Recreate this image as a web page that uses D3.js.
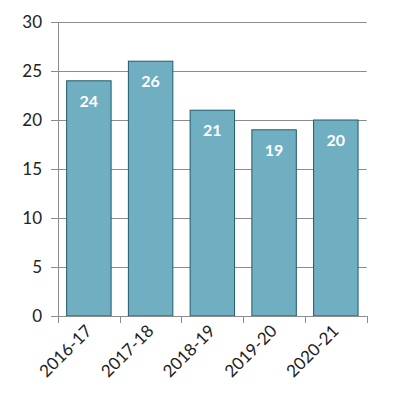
<!DOCTYPE html>
<html>
<head>
<meta charset="utf-8">
<script src="https://cdn.jsdelivr.net/npm/d3@7"></script>
<style>
  body { margin: 0; background: #fff; }
  svg text { font-family: "Lato", "DejaVu Sans", sans-serif; }
</style>
</head>
<body>
<div class="myChart"></div>
<script>
    var categories = ['2016-17', '2017-18', '2018-19', '2019-20', '2020-21'];
    var values = [24, 26, 21, 19, 20];
    var yTicks = [0, 5, 10, 15, 20, 25, 30];

    // width and height
    var w = 397;
    var h = 414;
    var plotLeft = 58, plotRight = 366.7, plotTop = 22, plotBottom = 316;

    var x = d3.scaleBand()
                .domain(categories)
                .range([plotLeft, plotRight])
                .paddingInner(0.28)
                .paddingOuter(0.14);

    var y = d3.scaleLinear()
                .domain([0, 30])
                .range([plotBottom, plotTop]);

    var svg = d3.select('.myChart')
                .append('svg')
                .attr('width', w)
                .attr('height', h);

    // gridlines
    svg.append('g')
        .selectAll('line')
        .data(yTicks.filter(function (d) { return d > 0; }))
        .enter()
        .append('line')
            .attr('x1', plotLeft)
            .attr('x2', plotRight)
            .attr('y1', function (d) { return Math.round(y(d)) + 0.5; })
            .attr('y2', function (d) { return Math.round(y(d)) + 0.5; })
            .attr('stroke', '#8c8c8c')
            .attr('stroke-width', 1);

    // bars
    svg.append('g')
        .selectAll('rect')
        .data(values)
        .enter()
        .append('rect')
            .attr('x', function (d, i) { return x(categories[i]); })
            .attr('y', function (d) { return y(d); })
            .attr('width', x.bandwidth())
            .attr('height', function (d) { return plotBottom - y(d); })
            .attr('fill', '#70afc1')
            .attr('stroke', '#1f5a6a')
            .attr('stroke-width', 1);

    // value labels
    svg.append('g')
        .selectAll('text')
        .data(values)
        .enter()
        .append('text')
            .attr('x', function (d, i) { return x(categories[i]) + x.bandwidth() / 2; })
            .attr('y', function (d) { return y(d) + 26; })
            .attr('text-anchor', 'middle')
            .attr('font-size', '16px')
            .attr('font-weight', 'bold')
            .attr('fill', 'white')
            .text(function (d) { return d; });

    // y axis
    var yAxis = svg.append('g')
        .attr('transform', 'translate(' + plotLeft + ',0)')
        .call(d3.axisLeft(y).tickValues(yTicks).tickSize(7).tickPadding(9));
    yAxis.selectAll('line, path').attr('stroke', '#8c8c8c');
    yAxis.select('path').attr('d', 'M0.5,' + plotTop + 'V' + plotBottom);
    yAxis.selectAll('text')
        .attr('font-size', '17px')
        .attr('fill', '#222')
        .style('font-family', '"Lato", "DejaVu Sans", sans-serif');

    // x axis
    var xEdges = d3.scaleLinear().domain([0, categories.length]).range([plotLeft, plotRight]);
    var xAxis = svg.append('g')
        .attr('transform', 'translate(0,' + plotBottom + ')');
    xAxis.append('line')
        .attr('x1', plotLeft).attr('x2', plotRight)
        .attr('y1', 0.5).attr('y2', 0.5)
        .attr('stroke', '#8c8c8c');
    xAxis.selectAll('.xtick')
        .data(d3.range(categories.length + 1))
        .enter()
        .append('line')
            .attr('class', 'xtick')
            .attr('x1', function (d) { return Math.round(xEdges(d)) + 0.5; })
            .attr('x2', function (d) { return Math.round(xEdges(d)) + 0.5; })
            .attr('y1', 0)
            .attr('y2', 7)
            .attr('stroke', '#8c8c8c');
    xAxis.selectAll('.xlabel')
        .data(categories)
        .enter()
        .append('text')
            .attr('class', 'xlabel')
            .attr('transform', function (d) {
                return 'translate(' + (x(d) + x.bandwidth() / 2 + 4) + ',16) rotate(-45)';
            })
            .attr('text-anchor', 'end')
            .attr('font-size', '17px')
            .attr('fill', '#222')
            .text(function (d) { return d; });
</script>
</body>
</html>
